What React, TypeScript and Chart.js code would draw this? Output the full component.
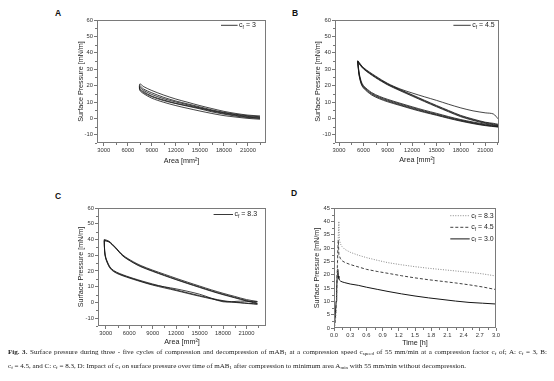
import React, { useEffect, useRef } from "react";
import { Chart, registerables } from "chart.js";
Chart.register(...registerables);

// ---------- tick values ----------
const xTicksArea = [3000, 6000, 9000, 12000, 15000, 18000, 21000];
const xMinorArea = [4500, 7500, 10500, 13500, 16500, 19500, 22500];
const yTicksPressure = [-10, 0, 10, 20, 30, 40, 50, 60];
const yMinorPressure = [-15, -5, 5, 15, 25, 35, 45, 55];
const xTicksTime = [0, 0.3, 0.6, 0.9, 1.2, 1.5, 1.8, 2.1, 2.4, 2.7, 3.0];
const xMinorTime = [0.15, 0.45, 0.75, 1.05, 1.35, 1.65, 1.95, 2.25, 2.55, 2.85];
const yTicksTime = [0, 5, 10, 15, 20, 25, 30, 35, 40, 45];
const yMinorTime = [2.5, 7.5, 12.5, 17.5, 22.5, 27.5, 32.5, 37.5, 42.5];

// ---------- Panel A (cf = 3) ----------
const compAreaA = [22500, 21000, 19500, 18000, 16500, 15000, 13500, 12000, 10500, 9000, 8000, 7500];
const compA1 = [1.5, 2.0, 3.0, 4.3, 6.0, 7.8, 9.8, 11.8, 14.2, 17.0, 19.3, 21.0];
const compA2 = [1.0, 1.6, 2.5, 3.7, 5.2, 7.0, 8.8, 10.6, 12.8, 15.6, 17.8, 19.9];
const compA3 = [0.6, 1.2, 2.2, 3.4, 4.8, 6.5, 8.3, 10.0, 12.0, 14.6, 17.0, 18.9];
const decompAreaA = [7500, 8000, 9000, 10500, 12000, 13500, 15000, 16500, 18000, 19500, 21000, 22500];
const decompA1 = [17.1, 15.0, 12.3, 9.8, 7.8, 6.1, 4.5, 3.0, 1.7, 0.8, 0.0, -0.5];
const decompA2 = [18.2, 16.2, 13.6, 11.2, 9.2, 7.7, 6.2, 4.5, 3.0, 1.8, 0.8, 0.2];
const decompA3 = [17.6, 15.6, 13.2, 10.8, 9.0, 7.4, 5.8, 4.0, 2.6, 1.4, 0.5, 0.0];

// ---------- Panel B (cf = 4.5) ----------
const compAreaB = [22600, 22000, 21000, 19500, 18000, 16500, 15000, 13500, 12000, 10500, 9000, 7500, 6000, 5300];
const compB1 = [-0.3, 2.7, 3.4, 4.6, 6.4, 8.6, 11.0, 13.2, 15.5, 18.0, 21.3, 25.8, 31.0, 35.2];
const compB2 = [-3.6, -3.0, -2.3, -0.4, 1.8, 4.8, 7.9, 11.1, 14.4, 17.6, 21.0, 25.4, 30.7, 35.0];
const compB3 = [-4.0, -3.4, -2.6, -0.8, 1.4, 4.4, 7.5, 10.7, 14.0, 17.3, 20.7, 25.1, 30.4, 34.7];
const compB4 = [-4.4, -3.8, -3.0, -1.2, 1.0, 4.0, 7.1, 10.3, 13.6, 16.9, 20.4, 24.8, 30.2, 34.4];
const decompAreaB = [5300, 5450, 5700, 6000, 7000, 8000, 9000, 10500, 12000, 13500, 15000, 16500, 18000, 19500, 21000, 22600];
const decompB1 = [35.2, 28.5, 23.0, 20.0, 15.8, 13.4, 11.6, 9.3, 7.1, 5.0, 3.1, 1.1, -0.7, -2.2, -3.5, -4.6];
const decompB2 = [35.0, 27.8, 22.4, 19.5, 15.3, 12.9, 11.1, 8.8, 6.6, 4.5, 2.6, 0.7, -1.1, -2.6, -3.9, -4.9];
const decompB3 = [34.7, 27.2, 21.8, 19.0, 14.8, 12.4, 10.6, 8.3, 6.1, 4.1, 2.2, 0.3, -1.4, -2.9, -4.2, -5.1];
const decompB4 = [34.4, 26.6, 21.3, 18.5, 14.3, 11.9, 10.1, 7.9, 5.7, 3.7, 1.9, 0.0, -1.7, -3.2, -4.4, -5.3];

// ---------- Panel C (cf = 8.3) ----------
const compAreaC = [22400, 21000, 19500, 18000, 16500, 15000, 13500, 12000, 10500, 9000, 7500, 6500, 5200, 4200, 3400, 2800];
const compC1 = [0.6, 1.8, 3.8, 5.8, 8.0, 10.4, 12.8, 15.3, 17.9, 20.5, 23.4, 25.9, 30.0, 35.2, 38.9, 40.0];
const compC2 = [-0.4, 1.2, 3.2, 5.2, 7.4, 9.8, 12.2, 14.7, 17.3, 20.0, 22.9, 25.4, 29.6, 34.9, 38.6, 39.5];
const compC3 = [-0.8, 0.9, 2.9, 4.9, 7.1, 9.5, 11.9, 14.4, 17.0, 19.7, 22.6, 25.2, 29.4, 34.7, 38.4, 39.2];
const decompAreaC = [2800, 2850, 3000, 3500, 4000, 4800, 6500, 9000, 12000, 15000, 18000, 20200, 22400];
const decompC1 = [40.0, 33.0, 28.5, 22.8, 20.3, 18.3, 15.3, 11.7, 7.9, 4.3, 1.1, -0.1, -1.0];
const decompC2 = [39.5, 32.5, 28.0, 22.3, 19.9, 17.9, 15.0, 11.3, 8.6, 5.2, 0.4, 0.8, 0.5];
const decompC3 = [39.2, 32.0, 27.6, 22.0, 19.6, 17.6, 14.7, 11.0, 7.5, 3.9, 0.8, -0.3, -1.2];

// ---------- Panel D (pressure over time) ----------
const timeD = [0, 0.02, 0.04, 0.05, 0.06, 0.07, 0.08, 0.09, 0.1, 0.12, 0.15, 0.2, 0.3, 0.45, 0.6, 0.8, 1.0, 1.25, 1.5, 1.75, 2.0, 2.25, 2.5, 2.75, 3.0];
const pressD83 = [0, 1, 6, 12, 19, 27, 35, 40, 33, 31.5, 30.5, 29.5, 28.4, 27.3, 26.4, 25.4, 24.5, 23.7, 23.0, 22.4, 21.9, 21.4, 20.9, 20.3, 19.5];
const pressD45 = [0, 2, 8, 14, 21, 29, 33, 27.5, 27, 26, 25.2, 24.6, 23.8, 22.9, 22.0, 21.2, 20.5, 19.6, 18.8, 18.1, 17.5, 16.9, 16.2, 15.4, 14.4];
const pressD30 = [0, 4, 10, 15, 20, 22, 19.5, 18.5, 18.0, 17.6, 17.3, 17.0, 16.5, 16.0, 15.3, 14.5, 13.7, 12.8, 12.0, 11.3, 10.7, 10.1, 9.6, 9.3, 9.0];

const SANS = "'Liberation Sans', Arial, sans-serif";
const SERIF = "'Liberation Serif', 'Times New Roman', serif";
const TITLE_SIZE = 7.2;
const LH = TITLE_SIZE * 1.2;

const pts = (xs: number[], ys: number[]) => xs.map((x, i) => ({ x, y: ys[i] }));
const loop = (cx: number[], cy: number[], dx: number[], dy: number[]) => [...pts(cx, cy), ...pts(dx, dy)];

const loopStyle = { borderColor: "#151515", borderWidth: 0.8, pointRadius: 0, tension: 0.3, fill: false };

type LegendItem = { val: string; dash: number[]; color: string; width: number };
type LegendDef = { items: LegendItem[]; xEnd: number; y0: number; step: number; len: number };

const decorPlugin = {
  id: "decor",
  afterDatasetsDraw(chart: any, _a: any, opts: any) {
    const { ctx, chartArea: ca, scales } = chart;
    const xs = scales.x, ys = scales.y;
    ctx.save();
    // frame
    ctx.strokeStyle = "#7a7a7a";
    ctx.lineWidth = 1;
    ctx.setLineDash([]);
    ctx.strokeRect(ca.left + 0.5, ca.top + 0.5, ca.right - ca.left - 1, ca.bottom - ca.top - 1);
    // minor ticks
    ctx.strokeStyle = "#777";
    ctx.beginPath();
    (opts.xMinor || []).forEach((v: number) => {
      const px = Math.round(xs.getPixelForValue(v)) + 0.5;
      ctx.moveTo(px, ca.bottom);
      ctx.lineTo(px, ca.bottom + 2);
    });
    (opts.yMinor || []).forEach((v: number) => {
      const py = Math.round(ys.getPixelForValue(v)) + 0.5;
      ctx.moveTo(ca.left - 2, py);
      ctx.lineTo(ca.left, py);
    });
    ctx.stroke();
    // legend
    const lg: LegendDef = opts.legend;
    if (lg) {
      lg.items.forEach((it, i) => {
        const y = ca.top + lg.y0 + i * lg.step;
        const xe = ca.right - lg.xEnd;
        ctx.strokeStyle = it.color;
        ctx.lineWidth = it.width;
        ctx.setLineDash(it.dash);
        ctx.beginPath();
        ctx.moveTo(xe - lg.len, y);
        ctx.lineTo(xe, y);
        ctx.stroke();
        ctx.setLineDash([]);
        ctx.fillStyle = "#222";
        ctx.textBaseline = "middle";
        ctx.textAlign = "left";
        let x = xe + 1.5;
        ctx.font = `7px ${SANS}`;
        ctx.fillText("c", x, y);
        x += ctx.measureText("c").width;
        ctx.font = `4.8px ${SANS}`;
        ctx.fillText("f", x, y + 2);
        x += ctx.measureText("f").width;
        ctx.font = `7px ${SANS}`;
        ctx.fillText(" = " + it.val, x, y);
      });
    }
    ctx.restore();
  },
};

type Rect = { l: number; t: number; r: number; b: number };
type PanelDef = {
  plot: Rect;
  xMin: number; xMax: number; yMin: number; yMax: number;
  xTicks: number[]; yTicks: number[]; xMinor: number[]; yMinor: number[];
  xTitle: string; yTitle: string; xTitleDist: number; yTitleDist: number;
  xFmt: (v: number) => string;
  datasets: any[];
  legend: LegendDef;
};

function Panel({ def }: { def: PanelDef }) {
  const ref = useRef<HTMLCanvasElement>(null);
  const W = 27, H = 25, PT = 8, PR = 8;
  const cl = def.plot.l - W, ct = def.plot.t - PT;
  const cw = def.plot.r + PR - cl, ch = def.plot.b + H - ct;
  useEffect(() => {
    const tickFont = { family: SANS, size: 5.8 };
    const titleFont = { family: SANS, size: TITLE_SIZE };
    const chart = new Chart(ref.current as HTMLCanvasElement, {
      type: "line",
      data: { datasets: def.datasets },
      options: {
        responsive: false,
        animation: false,
        devicePixelRatio: 1,
        layout: { padding: { left: 0, top: PT, right: PR, bottom: 0 } },
        plugins: {
          legend: { display: false },
          tooltip: { enabled: false },
          decor: { xMinor: def.xMinor, yMinor: def.yMinor, legend: def.legend },
        } as any,
        scales: {
          x: {
            type: "linear",
            position: "bottom",
            min: def.xMin,
            max: def.xMax,
            afterBuildTicks: (s: any) => { s.ticks = def.xTicks.map((v) => ({ value: v })); },
            afterFit: (s: any) => { s.height = H; s.paddingLeft = 0; s.paddingRight = 0; },
            ticks: { autoSkip: false, maxRotation: 0, minRotation: 0, padding: 0.5, font: tickFont, color: "#333", callback: (v: any) => def.xFmt(Number(v)) },
            grid: { drawOnChartArea: false, drawTicks: true, tickLength: 3, tickColor: "#777", color: "#777" },
            border: { display: false },
            title: { display: true, text: def.xTitle, font: titleFont, color: "#222", padding: { top: 0, bottom: Math.max(0, H - LH / 2 - def.xTitleDist) } },
          },
          y: {
            type: "linear",
            position: "left",
            min: def.yMin,
            max: def.yMax,
            afterBuildTicks: (s: any) => { s.ticks = def.yTicks.map((v) => ({ value: v })); },
            afterFit: (s: any) => { s.width = W; s.paddingTop = 0; s.paddingBottom = 0; },
            ticks: { autoSkip: false, padding: 1, font: tickFont, color: "#333", callback: (v: any) => String(v) },
            grid: { drawOnChartArea: false, drawTicks: true, tickLength: 3, tickColor: "#777", color: "#777" },
            border: { display: false },
            title: { display: true, text: def.yTitle, font: titleFont, color: "#222", padding: { top: Math.max(0, W - LH / 2 - def.yTitleDist), bottom: 0 } },
          },
        },
      } as any,
      plugins: [decorPlugin],
    });
    return () => chart.destroy();
  }, []);
  return (
    <canvas
      ref={ref}
      width={cw}
      height={ch}
      style={{ position: "absolute", left: cl, top: ct, width: cw, height: ch }}
    />
  );
}

const fmtInt = (v: number) => String(v);
const fmtTime = (v: number) => v.toFixed(1);
const solidItem = (val: string): LegendItem => ({ val, dash: [], color: "#222", width: 0.9 });

const panelA: PanelDef = {
  plot: { l: 97, t: 20, r: 266, b: 143 },
  xMin: 2150, xMax: 23250, yMin: -15, yMax: 60,
  xTicks: xTicksArea, yTicks: yTicksPressure, xMinor: xMinorArea, yMinor: yMinorPressure,
  xTitle: "Area [mm²]", yTitle: "Surface Pressure [mN/m]", xTitleDist: 17.7, yTitleDist: 15.8,
  xFmt: fmtInt,
  datasets: [
    { data: loop(compAreaA, compA1, decompAreaA, decompA1), ...loopStyle },
    { data: loop(compAreaA, compA2, decompAreaA, decompA2), ...loopStyle },
    { data: loop(compAreaA, compA3, decompAreaA, decompA3), ...loopStyle },
  ],
  legend: { items: [solidItem("3")], xEnd: 28.4, y0: 5.3, step: 0, len: 16.6 },
};

const panelB: PanelDef = {
  plot: { l: 335, t: 20, r: 499, b: 143 },
  xMin: 2500, xMax: 22700, yMin: -15, yMax: 60,
  xTicks: xTicksArea, yTicks: yTicksPressure, xMinor: xMinorArea, yMinor: yMinorPressure,
  xTitle: "Area [mm²]", yTitle: "Surface Pressure [mN/m]", xTitleDist: 17.3, yTitleDist: 17,
  xFmt: fmtInt,
  datasets: [
    { data: loop(compAreaB, compB1, decompAreaB, decompB1), ...loopStyle },
    { data: loop(compAreaB, compB2, decompAreaB, decompB2), ...loopStyle },
    { data: loop(compAreaB, compB3, decompAreaB, decompB3), ...loopStyle },
    { data: loop(compAreaB, compB4, decompAreaB, decompB4), ...loopStyle },
  ],
  legend: { items: [solidItem("4.5")], xEnd: 28.3, y0: 5.3, step: 0, len: 17.3 },
};

const panelC: PanelDef = {
  plot: { l: 98, t: 208, r: 266, b: 326 },
  xMin: 2000, xMax: 23500, yMin: -15, yMax: 60,
  xTicks: xTicksArea, yTicks: yTicksPressure, xMinor: xMinorArea, yMinor: yMinorPressure,
  xTitle: "Area [mm²]", yTitle: "Surface Pressure [mN/m]", xTitleDist: 16, yTitleDist: 17.3,
  xFmt: fmtInt,
  datasets: [
    { data: loop(compAreaC, compC1, decompAreaC, decompC1), ...loopStyle },
    { data: loop(compAreaC, compC2, decompAreaC, decompC2), ...loopStyle },
    { data: loop(compAreaC, compC3, decompAreaC, decompC3), ...loopStyle },
  ],
  legend: { items: [solidItem("8.3")], xEnd: 33, y0: 6.5, step: 0, len: 19.4 },
};

const panelD: PanelDef = {
  plot: { l: 334, t: 208, r: 496, b: 328 },
  xMin: 0, xMax: 3.0, yMin: 0, yMax: 45,
  xTicks: xTicksTime, yTicks: yTicksTime, xMinor: xMinorTime, yMinor: yMinorTime,
  xTitle: "Time [h]", yTitle: "Surface Pressure [mN/m]", xTitleDist: 14.7, yTitleDist: 17,
  xFmt: fmtTime,
  datasets: [
    { data: pts(timeD, pressD83), borderColor: "#7a7a7a", borderWidth: 0.9, borderDash: [1, 1.5], pointRadius: 0, tension: 0 },
    { data: pts(timeD, pressD45), borderColor: "#2a2a2a", borderWidth: 0.9, borderDash: [3, 2], pointRadius: 0, tension: 0 },
    { data: pts(timeD, pressD30), borderColor: "#151515", borderWidth: 1, pointRadius: 0, tension: 0 },
  ],
  legend: {
    items: [
      { val: "8.3", dash: [1, 1.5], color: "#7a7a7a", width: 0.9 },
      { val: "4.5", dash: [3, 2], color: "#2a2a2a", width: 0.9 },
      { val: "3.0", dash: [], color: "#151515", width: 1 },
    ],
    xEnd: 26.3, y0: 7.7, step: 11.6, len: 19.4,
  },
};

const subStyle: React.CSSProperties = { fontSize: "70%", verticalAlign: "-0.3em", lineHeight: 0 };

function PanelLabel({ text, x, y }: { text: string; x: number; y: number }) {
  return (
    <div style={{ position: "absolute", left: x, top: y, transform: "translate(-50%, -50%)", font: `bold 8.5px ${SANS}`, lineHeight: 1, color: "#111" }}>
      {text}
    </div>
  );
}

export default function App() {
  const capBase: React.CSSProperties = { position: "absolute", left: 8, font: `7.05px ${SERIF}`, lineHeight: "10px", color: "#222", whiteSpace: "nowrap" };
  return (
    <div style={{ position: "fixed", left: 0, top: 0, width: 554, height: 381, background: "#fff", overflow: "hidden" }}>
      <PanelLabel text="A" x={58} y={13} />
      <PanelLabel text="B" x={295} y={13} />
      <PanelLabel text="C" x={58} y={196} />
      <PanelLabel text="D" x={294} y={193} />
      <Panel def={panelA} />
      <Panel def={panelB} />
      <Panel def={panelC} />
      <Panel def={panelD} />
      <div style={{ ...capBase, top: 347, width: 539, textAlign: "justify", textAlignLast: "justify" as any, whiteSpace: "normal" }}>
        <b>Fig. 3.</b> Surface pressure during three - five cycles of compression and decompression of mAB<sub style={subStyle}>1</sub> at a compression speed c<sub style={subStyle}>speed</sub> of 55 mm/min at a compression factor c<sub style={subStyle}>f</sub> of; A: c<sub style={subStyle}>f</sub> = 3, B:
      </div>
      <div style={{ ...capBase, top: 361 }}>
        c<sub style={subStyle}>f</sub> = 4.5, and C: c<sub style={subStyle}>f</sub> = 8.3, D: Impact of c<sub style={subStyle}>f</sub> on surface pressure over time of mAB<sub style={subStyle}>1</sub> after compression to minimum area A<sub style={subStyle}>min</sub> with 55 mm/min without decompression.
      </div>
    </div>
  );
}
